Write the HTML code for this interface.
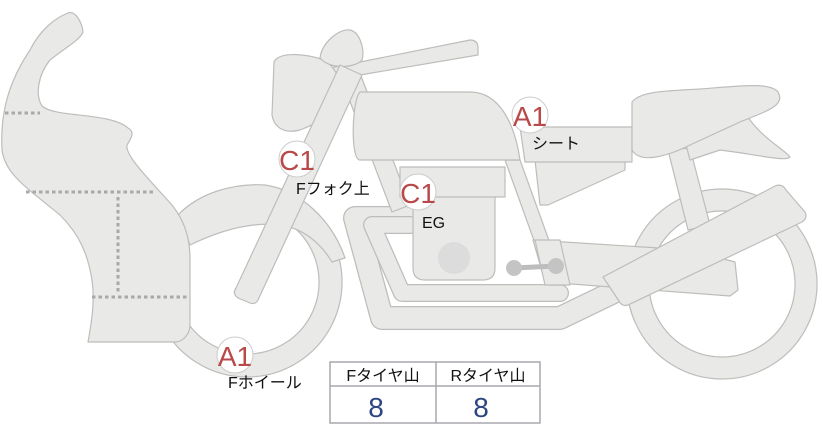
<!DOCTYPE html>
<html><head><meta charset="utf-8"><style>
body{margin:0;background:#fff;width:822px;height:425px;overflow:hidden}
svg{display:block}
text{font-family:"Liberation Sans","Noto Sans CJK JP",sans-serif}
</style></head><body>
<svg width="822" height="425" viewBox="0 0 822 425" xmlns="http://www.w3.org/2000/svg">
<g fill="#e9e9e7" stroke="#bdbdbb" stroke-width="1.2" stroke-linejoin="round">
<!-- rear wheel -->
<path fill-rule="evenodd" d="M722,189a95,95 0 1,0 0.1,0z M722,211a73,73 0 1,0 0.1,0z"/>
<!-- front wheel -->
<path fill-rule="evenodd" d="M247,187a95,95 0 1,0 0.1,0z M247,210a72,72 0 1,0 0.1,0z"/>
<!-- front fender -->
<path d="M178,215 C200,192 235,183 265,185 C300,190 332,220 345,258 L332,262 C320,242 302,228 280,225 C255,222 225,228 190,245 z"/>
<!-- exhaust pipes -->
<g fill="none" stroke-linecap="round" stroke-linejoin="round">
<polyline points="412,218 355,218 382,318 560,318 618,290" stroke="#bdbdbb" stroke-width="24"/>
<polyline points="412,218 355,218 382,318 560,318 618,290" stroke="#e9e9e7" stroke-width="21.5"/>
<polyline points="410,225 372,225 402,293 560,293" stroke="#bdbdbb" stroke-width="18"/>
<polyline points="410,225 372,225 402,293 560,293" stroke="#e9e9e7" stroke-width="15.5"/>
</g>
<!-- frame tube down -->
<path d="M340,75 L358,68 L410,205 L392,212 z"/>
<!-- rear frame -->
<path d="M505,160 L520,160 L565,285 L550,285 z"/>
<!-- swingarm -->
<path d="M533,240 L690,250 L735,262 L738,290 L730,296 L545,282 z"/>
<path d="M535,240 L560,240 L570,285 L545,285 z"/>
<!-- side cover -->
<path d="M535,160 L625,160 L625,170 L548,205 L540,205 z"/>
<!-- rear shock -->
<path d="M668,150 L690,148 L710,225 L688,230 z"/>
<!-- engine -->
<path d="M413,196 L495,196 L495,268 Q495,280 483,280 L425,280 Q413,280 413,268 z"/>
<circle cx="454" cy="258" r="16" fill="#dcdcdc" stroke="none"/>
<rect x="400" y="167" width="105" height="30"/>
<!-- footpeg -->
<line x1="514" y1="268" x2="556" y2="266" stroke="#bdbdbd" stroke-width="5"/>
<circle cx="514" cy="268" r="8" fill="#c4c4c4" stroke="none"/>
<circle cx="556" cy="266" r="8" fill="#c4c4c4" stroke="none"/>
<!-- seat middle -->
<path d="M520,127 L632,127 L632,162 L525,162 z"/>
<!-- tail -->
<path d="M680,122 C720,118 745,112 750,120 C765,140 785,150 790,157 C786,162 760,155 720,150 L690,160 z"/>
<!-- rear seat -->
<path d="M632,102 C640,92 660,91 700,89 C740,86 770,82 778,92 C785,105 770,110 740,122 L690,145 C670,155 640,165 632,150 z"/>
<!-- tank -->
<path d="M360,92 L470,92 C500,92 515,125 520,160 L360,160 C350,160 352,100 360,92 z"/>
<!-- handlebar -->
<path d="M320,70 L470,40 Q478,40 478,48 L478,55 L360,75 z"/>
<!-- headlight -->
<path d="M274,62 C280,50 310,55 324,60 C334,66 342,78 339,95 C336,115 320,122 300,130 C285,134 274,128 272,115 z"/>
<path d="M320,58 C322,42 340,28 350,30 C360,32 365,50 362,60 C355,68 330,70 320,58 z"/>
<!-- fork -->
<path d="M340,65 L362,75 L258,300 Q255,305 250,303 L238,298 Q232,294 236,288 z"/>
<!-- muffler -->
<path d="M603,277 L775,186 Q782,183 786,190 L805,212 Q808,218 802,222 L628,305 Q622,307 619,301 z"/>
<!-- fairing -->
<path d="M68,13 C75,10 82,22 83,32 C80,40 65,48 50,60 C38,75 35,95 42,106 C55,118 110,112 128,128 C136,132 130,140 127,145 C125,155 145,175 172,205 C188,225 190,245 190,260 L190,325 C190,335 182,342 175,342 L88,342 C92,320 95,300 92,280 C88,255 80,235 60,215 C30,190 5,175 2,150 C0,110 10,80 30,50 C40,30 55,18 68,13 z"/>
</g>
<!-- dotted lines -->
<g stroke="#a9a9a9" stroke-width="3" stroke-dasharray="3.5,3" fill="none">
<line x1="5" y1="113" x2="40" y2="113"/>
<line x1="26" y1="192" x2="154" y2="192"/>
<line x1="118" y1="197" x2="118" y2="293"/>
<line x1="92" y1="297" x2="189" y2="297"/>
</g>
<!-- markers -->
<g>
<circle cx="297" cy="159" r="18" fill="#fff" stroke="#cccccc"/>
<text x="297" y="170" font-size="28" fill="#b94848" text-anchor="middle">C1</text>
<text x="296" y="194" font-size="16" fill="#111">Fフォク上</text>
<circle cx="530" cy="115" r="18" fill="#fff" stroke="#cccccc"/>
<text x="530" y="126" font-size="28" fill="#b94848" text-anchor="middle">A1</text>
<text x="532" y="149" font-size="16" fill="#111">シート</text>
<circle cx="418" cy="192" r="18" fill="#fff" stroke="#cccccc"/>
<text x="418" y="203" font-size="28" fill="#b94848" text-anchor="middle">C1</text>
<text x="422" y="228" font-size="16" fill="#111">EG</text>
<circle cx="235" cy="355" r="18" fill="#fff" stroke="#cccccc"/>
<text x="235" y="366" font-size="28" fill="#b94848" text-anchor="middle">A1</text>
<text x="228" y="388" font-size="16" fill="#111">Fホイール</text>
</g>
<!-- table -->
<g fill="#fff" stroke="#a8a8ae" stroke-width="1.5">
<rect x="330" y="362" width="210" height="61"/>
<line x1="330" y1="386" x2="540" y2="386"/>
<line x1="436" y1="362" x2="436" y2="423"/>
</g>
<text x="383" y="381" font-size="16" fill="#111" text-anchor="middle">Fタイヤ山</text>
<text x="488" y="381" font-size="16" fill="#111" text-anchor="middle">Rタイヤ山</text>
<text x="376" y="417" font-size="28" fill="#2d4680" text-anchor="middle">8</text>
<text x="481" y="417" font-size="28" fill="#2d4680" text-anchor="middle">8</text>
</svg>
</body></html>
